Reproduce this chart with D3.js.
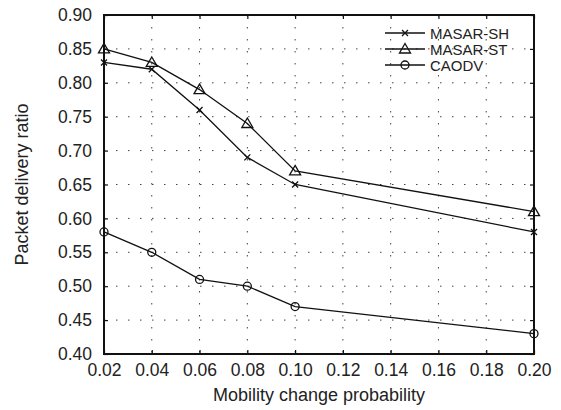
<!DOCTYPE html>
<html>
<head>
<meta charset="utf-8">
<script src="https://cdn.jsdelivr.net/npm/d3@7"></script>
<style>
  body { margin: 0; background: #fff; }
  text { font-family: "Liberation Sans", Arial, sans-serif; fill: #222; }
</style>
</head>
<body>
<div id="chart"></div>
<script>
// data
const probs = [0.02, 0.04, 0.06, 0.08, 0.10, 0.20];
const masarSH = [0.83, 0.82, 0.76, 0.69, 0.65, 0.58];
const masarST = [0.85, 0.83, 0.79, 0.74, 0.67, 0.61];
const caodv = [0.58, 0.55, 0.51, 0.50, 0.47, 0.43];
const seriesNames = ["MASAR-SH", "MASAR-ST", "CAODV"];
const xTicks = [0.02, 0.04, 0.06, 0.08, 0.10, 0.12, 0.14, 0.16, 0.18, 0.20];
const yTicks = [0.40, 0.45, 0.50, 0.55, 0.60, 0.65, 0.70, 0.75, 0.80, 0.85, 0.90];

const series = [
  {name: seriesNames[0], values: masarSH, marker: "cross"},
  {name: seriesNames[1], values: masarST, marker: "triangle"},
  {name: seriesNames[2], values: caodv, marker: "circle"}
];

// set the dimensions and margins of the graph
const margin = {top: 15, right: 27, bottom: 56, left: 104},
  width = 561 - margin.left - margin.right,
  height = 410 - margin.top - margin.bottom;

const svg = d3.select("#chart")
  .append("svg")
  .attr("width", 561)
  .attr("height", 410)
  .append("g")
  .attr("transform", `translate(${margin.left},${margin.top})`);

const x = d3.scaleLinear().domain([0.02, 0.20]).range([0, width]);
const y = d3.scaleLinear().domain([0.40, 0.90]).range([height, 0]);

// dotted grid
svg.append("g")
  .selectAll("line")
  .data(xTicks.slice(1, -1))
  .join("line")
  .attr("x1", d => x(d)).attr("x2", d => x(d))
  .attr("y1", 0).attr("y2", height)
  .attr("stroke", "#444")
  .attr("stroke-width", 1)
  .attr("stroke-dasharray", "1.5,10.5");

svg.append("g")
  .selectAll("line")
  .data(yTicks.slice(1, -1))
  .join("line")
  .attr("x1", 0).attr("x2", width)
  .attr("y1", d => y(d)).attr("y2", d => y(d))
  .attr("stroke", "#444")
  .attr("stroke-width", 1)
  .attr("stroke-dasharray", "1.5,10.5");

// axes with inward ticks
const fmt = d3.format(".2f");
const xAxis = svg.append("g")
  .attr("transform", `translate(0,${height})`)
  .call(d3.axisBottom(x).tickValues(xTicks).tickFormat(fmt).tickSizeInner(-4).tickSizeOuter(0).tickPadding(10));
const yAxis = svg.append("g")
  .call(d3.axisLeft(y).tickValues(yTicks).tickFormat(fmt).tickSizeInner(-4).tickSizeOuter(0).tickPadding(12));
svg.append("g")
  .call(d3.axisTop(x).tickValues(xTicks).tickFormat("").tickSizeInner(-4).tickSizeOuter(0));
svg.append("g")
  .attr("transform", `translate(${width},0)`)
  .call(d3.axisRight(y).tickValues(yTicks).tickFormat("").tickSizeInner(-4).tickSizeOuter(0));

svg.selectAll(".domain").remove();
svg.selectAll(".tick line").attr("stroke", "#111").attr("stroke-width", 1.2);
xAxis.selectAll("text").style("font-size", "17.5px").attr("fill", "#222");
yAxis.selectAll("text").style("font-size", "17.5px").attr("fill", "#222");

// frame
svg.append("rect")
  .attr("x", 0).attr("y", 0)
  .attr("width", width).attr("height", height)
  .attr("fill", "none")
  .attr("stroke", "#111")
  .attr("stroke-width", 2);

// axis titles
svg.append("text")
  .attr("x", width / 2)
  .attr("y", height + 47)
  .attr("text-anchor", "middle")
  .style("font-size", "18px")
  .text("Mobility change probability");

svg.append("text")
  .attr("transform", `translate(${-margin.left + 28},${height / 2}) rotate(-90)`)
  .attr("text-anchor", "middle")
  .style("font-size", "18px")
  .text("Packet delivery ratio");

// marker drawing
function drawMarker(g, type) {
  if (type === "cross") {
    g.append("path").attr("d", "M-3,-3L3,3M-3,3L3,-3")
      .attr("stroke", "#111").attr("stroke-width", 1.3).attr("fill", "none");
  } else if (type === "triangle") {
    g.append("path").attr("d", "M0,-5.5L5.5,4L-5.5,4Z")
      .attr("stroke", "#111").attr("stroke-width", 1.3).attr("fill", "none");
  } else {
    g.append("circle").attr("r", 4)
      .attr("stroke", "#111").attr("stroke-width", 1.3).attr("fill", "none");
  }
}

const line = d3.line()
  .x((d, i) => x(probs[i]))
  .y(d => y(d));

series.forEach(s => {
  svg.append("path")
    .datum(s.values)
    .attr("fill", "none")
    .attr("stroke", "#111")
    .attr("stroke-width", 1.3)
    .attr("d", line);
  s.values.forEach((v, i) => {
    const g = svg.append("g").attr("transform", `translate(${x(probs[i])},${y(v)})`);
    drawMarker(g, s.marker);
  });
});

// legend
const legend = svg.append("g").attr("transform", `translate(${281},${18})`);
series.forEach((s, i) => {
  const row = legend.append("g").attr("transform", `translate(0,${i * 16})`);
  row.append("line")
    .attr("x1", 0).attr("x2", 40)
    .attr("stroke", "#111").attr("stroke-width", 1.3);
  drawMarker(row.append("g").attr("transform", "translate(20,0)"), s.marker);
  row.append("text")
    .attr("x", 45).attr("y", 5.5)
    .style("font-size", "15px")
    .text(s.name);
});
</script>
</body>
</html>
